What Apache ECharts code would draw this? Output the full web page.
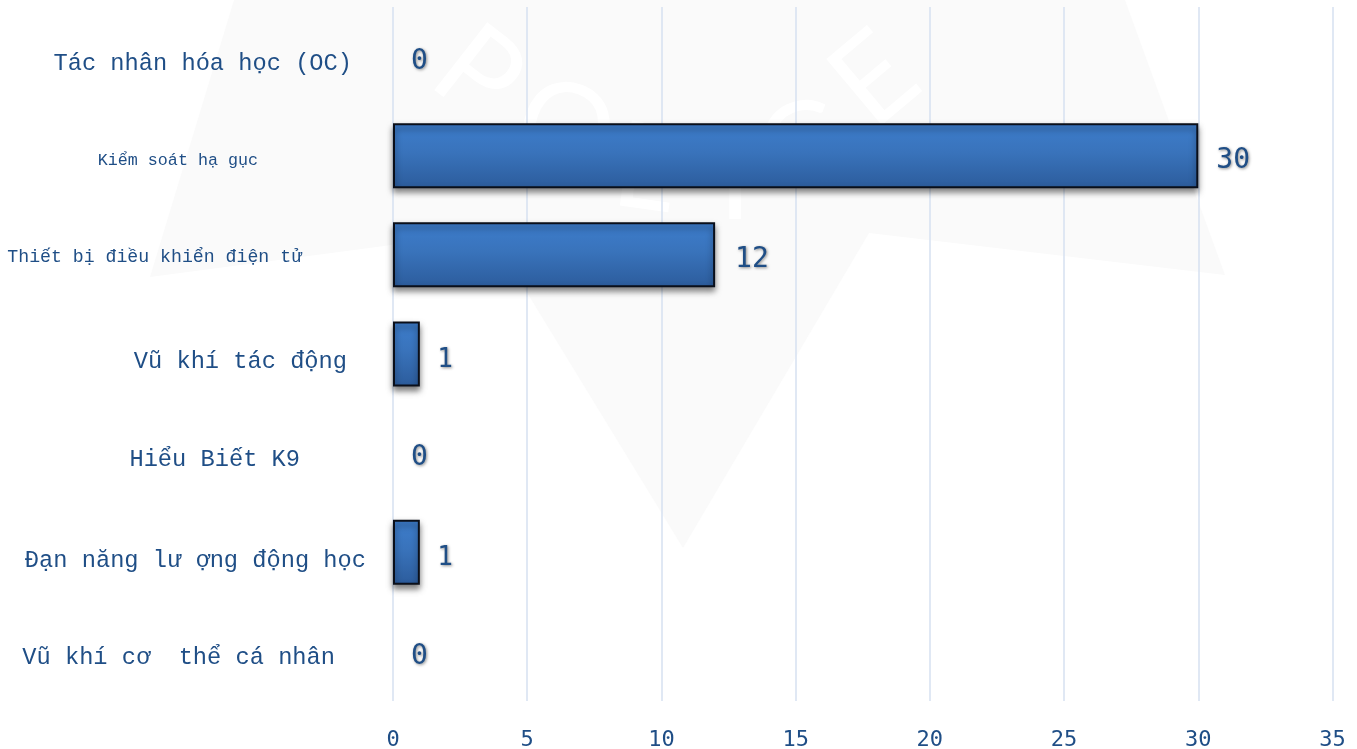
<!DOCTYPE html>
<html>
<head>
<meta charset="utf-8">
<style>html,body{margin:0;padding:0;background:#fff}#c{width:1357px;height:749px}</style>
<script src="https://cdn.jsdelivr.net/npm/echarts@6/dist/echarts.min.js"></script>
</head>
<body>
<div id="c"></div>
<script>
const categories = ["Tác nhân hóa học (OC)","Kiểm soát hạ gục","Thiết bị điều khiển điện tử","Vũ khí tác động","Hiểu Biết K9","Đạn năng lư ợng động học","Vũ khí cơ  thể cá nhân"];
const values = [0,30,12,1,0,1,0];
const labelSizes = [23.7,16.7,18.2,23.7,23.7,23.7,23.7];
const labelRightGap = [41,135,91,46,93,27,58];
const labelDown = [7,5,2,8,7,8,6];
const valueLabelSizes = [28,28,28,26,28,26,28];
const valueLabelDown = [5,5,5,6,5,6,5];
const valueLabelGap = [18,18,20,17.5,18,17.5,18];

const ink = '#1f4e86';
const font = '"DejaVu Sans Mono", monospace';
const catFont = '"Liberation Mono", "DejaVu Sans Mono", monospace';
const wmLetters = [['P',478,75,-38],['O',565,130,-20],['L',645,170,-8],['I',735,180,0],['C',800,150,15],['E',875,80,40]];
const chart = echarts.init(document.getElementById('c'), null, {renderer:'canvas'});
chart.setOption({
  animation:false,
  backgroundColor:'#fff',
  graphic:[{
    type:'polygon', z:-10, silent:true,
    shape:{points:[[234,0],[1125,0],[1225,275],[869,233],[683,548],[490,232],[150,277]]},
    style:{fill:'#fafafa'}
  }].concat(wmLetters.map(l=>({
    type:'text', z:-9, silent:true, x:l[1], y:l[2], rotation:l[3]*Math.PI/180,
    style:{text:l[0],fill:'#ffffff',font:'120px Lato, sans-serif',textAlign:'center',textVerticalAlign:'middle'}
  }))),
  grid:{left:393,right:24.5,top:7,bottom:48,containLabel:false,outerBoundsMode:'none'},
  xAxis:{
    type:'value',min:0,max:35,interval:5,
    axisLine:{show:false},axisTick:{show:false},
    splitLine:{show:true,lineStyle:{color:'#d6e1f0',width:1.5}},
    axisLabel:{color:ink,fontFamily:font,fontSize:22,margin:28}
  },
  yAxis:{
    type:'category',inverse:true,data:categories,
    axisLine:{show:false},axisTick:{show:false},splitLine:{show:false},
    axisLabel:{show:false}
  },
  series:[{
    type:'bar',barWidth:65,
    data:values.map((v,i)=>({
      value:v,
      itemStyle:v===0?{borderWidth:0,shadowBlur:0,shadowOffsetY:0,shadowColor:'transparent'}:{},
      label:{
        fontSize:valueLabelSizes[i],distance:valueLabelGap[i],offset:[0,valueLabelDown[i]],
        textShadowColor:v===1?'rgba(60,60,60,0.6)':'rgba(0,0,0,0.45)'
      }
    })),
    itemStyle:{
      color:new echarts.graphic.LinearGradient(0,0,0,1,[{offset:0,color:'#3d7dcc'},{offset:0.45,color:'#3973bb'},{offset:1,color:'#2c5c9c'}]),
      borderColor:'#0a0f1a',borderWidth:2,
      shadowColor:'rgba(0,0,0,0.5)',shadowBlur:6,shadowOffsetY:4
    },
    label:{
      show:true,position:'right',color:ink,fontFamily:font,
      textShadowBlur:3,textShadowOffsetX:1,textShadowOffsetY:1
    }
  },{
    type:'scatter',symbolSize:0,silent:true,itemStyle:{opacity:1},
    data:categories.map((c,i)=>({
      value:[0,c],
      label:{fontSize:labelSizes[i],offset:[-labelRightGap[i],labelDown[i]]}
    })),
    label:{
      show:true,position:'left',distance:0,color:ink,opacity:1,fontFamily:catFont,
      formatter:p=>p.value[1]
    }
  }]
});
</script>
</body>
</html>
